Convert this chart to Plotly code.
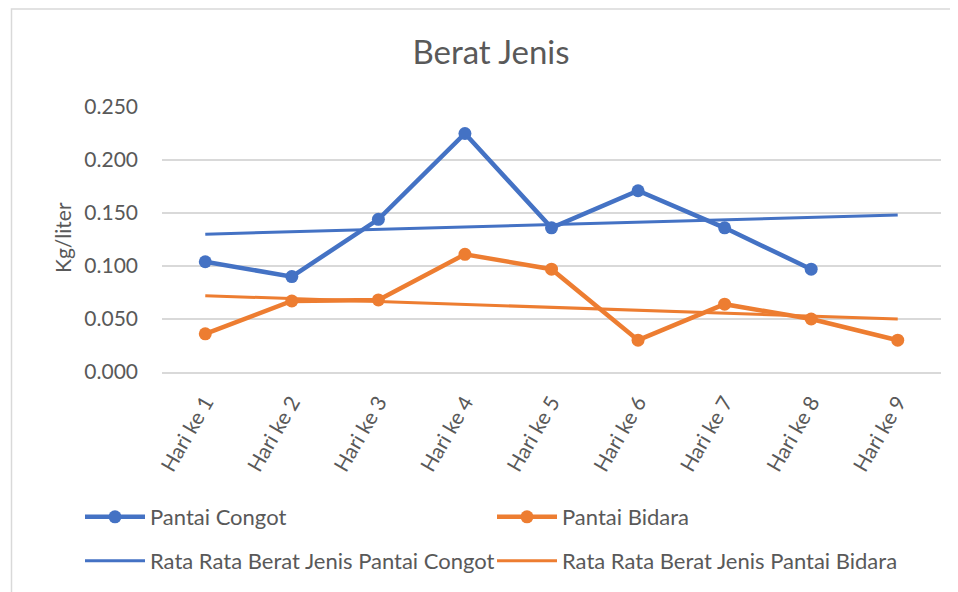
import plotly.graph_objects as go

days = ["Hari ke 1", "Hari ke 2", "Hari ke 3", "Hari ke 4", "Hari ke 5",
        "Hari ke 6", "Hari ke 7", "Hari ke 8", "Hari ke 9"]
congot = [0.104, 0.090, 0.144, 0.225, 0.136, 0.171, 0.136, 0.097, None]
bidara = [0.036, 0.067, 0.068, 0.111, 0.097, 0.030, 0.064, 0.050, 0.030]
trend_days = ["Hari ke 1", "Hari ke 9"]
trend_congot = [0.130, 0.148]
trend_bidara = [0.072, 0.050]
y_ticks = [0.0, 0.05, 0.10, 0.15, 0.20, 0.25]

BLUE = "#4472C4"
ORANGE = "#ED7D31"
GRAY = "#595959"
GRID = "#d9d9d9"
FONT = "Lato"

# the page body adds an 8px offset; positions below are given in page pixels
OFF = 8
W, H = 958, 592

def fx(p):
    return p - OFF

def fy(p):
    return p - OFF

L = fx(162)
T = fy(107)
B = H - fy(372)
R = W - fx(941)
pw, ph = W - L - R, H - T - B

def px(xp):
    return (fx(xp) - L) / pw

def py(yp):
    return (H - B - fy(yp)) / ph

fig = go.Figure()
fig.add_trace(go.Scatter(x=days, y=congot, name="Pantai Congot", mode="lines+markers",
                         line=dict(color=BLUE, width=4.5), marker=dict(size=13, color=BLUE),
                         legend="legend"))
fig.add_trace(go.Scatter(x=days, y=bidara, name="Pantai Bidara", mode="lines+markers",
                         line=dict(color=ORANGE, width=4.5), marker=dict(size=13, color=ORANGE),
                         legend="legend2"))
fig.add_trace(go.Scatter(x=trend_days, y=trend_congot, name="Rata Rata Berat Jenis Pantai Congot",
                         mode="lines", line=dict(color=BLUE, width=3), legend="legend3"))
fig.add_trace(go.Scatter(x=trend_days, y=trend_bidara, name="Rata Rata Berat Jenis Pantai Bidara",
                         mode="lines", line=dict(color=ORANGE, width=3), legend="legend4"))

def leg(xpage, ypage):
    return dict(orientation="h", xref="container", yref="container",
                x=(fx(xpage) - 5) / W, y=1 - fy(ypage) / H,
                xanchor="left", yanchor="middle",
                itemwidth=60, font=dict(family=FONT, size=22, color=GRAY),
                bgcolor="rgba(0,0,0,0)")

fig.update_layout(
    width=W, height=H,
    margin=dict(l=L, r=R, t=T, b=B),
    paper_bgcolor="white", plot_bgcolor="white",
    font=dict(family=FONT, size=21, color=GRAY),
    title=dict(text="Berat Jenis", x=fx(491) / W, y=1 - fy(52) / H, xref="container", yref="container",
               xanchor="center", yanchor="middle",
               font=dict(family=FONT, size=33, color=GRAY)),
    xaxis=dict(type="category", categoryorder="array", categoryarray=days,
               range=[-0.5, 8.5], showgrid=False, showline=True, linecolor=GRID, linewidth=1.5,
               ticks="", tickangle=-60, tickfont=dict(family=FONT, size=21, color=GRAY),
               ticklabelstandoff=8, zeroline=False, fixedrange=True),
    yaxis=dict(range=[0, 0.25], tickvals=y_ticks, tickformat=".3f", showgrid=True,
               gridcolor=GRID, gridwidth=1.5, zeroline=False, ticks="", showline=False,
               tickfont=dict(family=FONT, size=21, color=GRAY), ticklabelstandoff=23),
    legend=leg(85, 517),
    legend2=leg(497, 517),
    legend3=leg(85, 561),
    legend4=leg(497, 561),
    showlegend=True,
    annotations=[dict(text="Kg/liter", textangle=-90, xref="paper", yref="paper",
                      x=px(62), y=py(238), xanchor="center", yanchor="middle", showarrow=False,
                      font=dict(family=FONT, size=21, color=GRAY))],
    shapes=[dict(type="rect", xref="paper", yref="paper", x0=px(11.5), x1=px(1100),
                 y0=py(800), y1=py(9), line=dict(color=GRID, width=1.5), layer="below")],
)

fig.write_html("out.html")
